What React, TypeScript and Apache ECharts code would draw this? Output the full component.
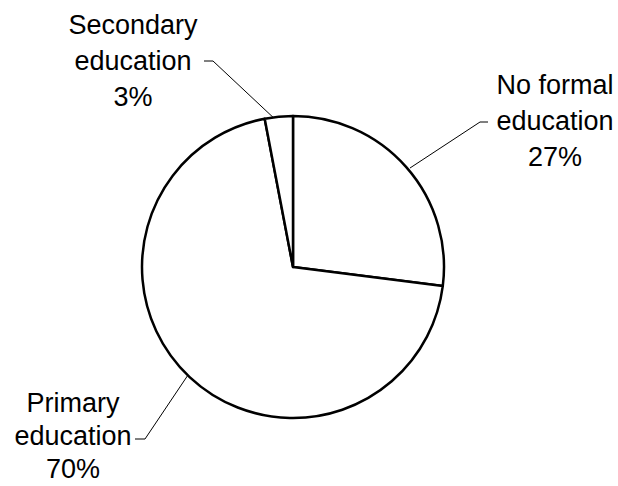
import React, { useEffect, useRef } from "react";
import * as echarts from "echarts";

const categories = ["No formal\neducation", "Primary\neducation", "Secondary\neducation"];
const shares = [27, 70, 3];

// label anchor (centre of text block) and label line points, per slice
const labelCentres = [
  [555, 121],
  [73, 436],
  [133, 61],
];
const labelLineHeights = [36, 33, 36];
const labelLines = [
  [[410, 168], [480, 122], [488, 122]],
  [[188, 375], [145, 439], [135, 439]],
  [[277, 121], [213, 61], [204, 61]],
];

export default function App() {
  const ref = useRef<HTMLDivElement>(null);
  useEffect(() => {
    document.body.style.margin = "0";
    const chart = echarts.init(ref.current!, null, { renderer: "svg" });
    chart.setOption({
      animation: false,
      backgroundColor: "#ffffff",
      series: [
        {
          type: "pie",
          center: [293, 267],
          radius: 151,
          startAngle: 90,
          clockwise: true,
          silent: true,
          data: categories.map((name, i) => ({
            name,
            value: shares[i],
            label: { lineHeight: labelLineHeights[i] },
          })),
          itemStyle: { color: "#ffffff", borderColor: "#000000", borderWidth: 2.5 },
          label: {
            show: true,
            formatter: (p: any) => `${p.name}\n${p.value}%`,
            fontFamily: "Liberation Sans, Arial, sans-serif",
            fontSize: 27,
            lineHeight: 36,
            color: "#000000",
            align: "center",
          },
          labelLine: { show: true, lineStyle: { color: "#000000", width: 1 } },
          labelLayout: (params: any) => {
            const i = params.dataIndex;
            return {
              x: labelCentres[i][0],
              y: labelCentres[i][1],
              align: "center",
              verticalAlign: "middle",
              labelLinePoints: labelLines[i],
            };
          },
        },
      ],
    });
    return () => chart.dispose();
  }, []);
  return <div ref={ref} style={{ width: 618, height: 486 }} />;
}
